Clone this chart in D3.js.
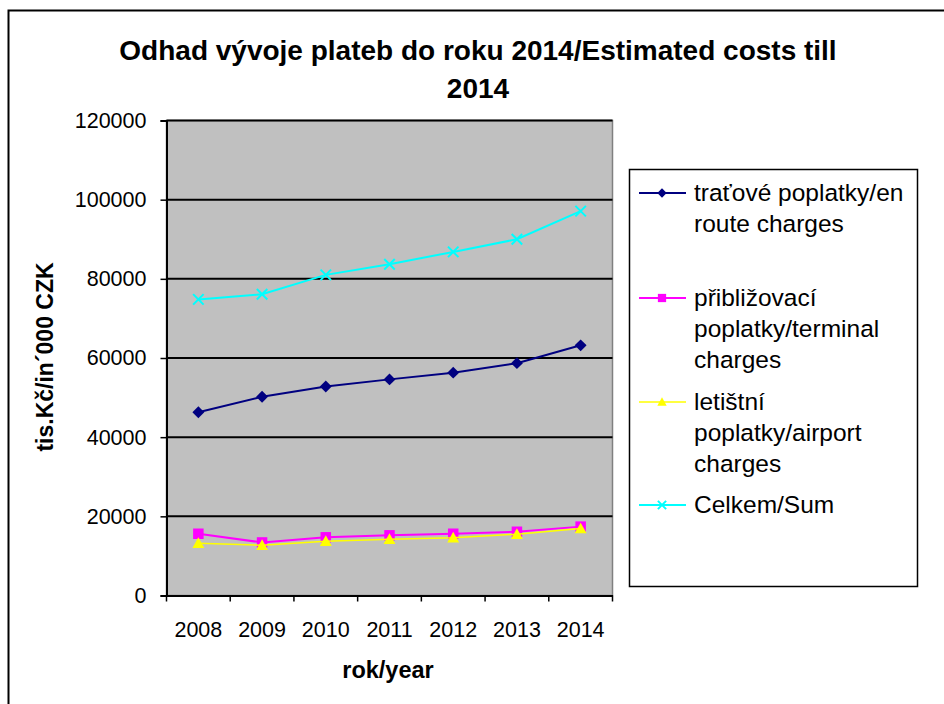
<!DOCTYPE html>
<html>
<head>
<meta charset="utf-8">
<script src="https://cdn.jsdelivr.net/npm/d3@7"></script>
<style>
  body { margin: 0; background: #fff; }
  svg { display: block; font-family: Arial, "Liberation Sans", sans-serif; }
</style>
</head>
<body>
<svg id="chart" width="944" height="704"></svg>
<script>
// chart data
const years = ["2008", "2009", "2010", "2011", "2012", "2013", "2014"];
const enRoute = [46300, 50200, 52800, 54600, 56300, 58700, 63200];
const terminal = [15600, 13400, 14700, 15200, 15600, 16100, 17400];
const airport = [13200, 12700, 13700, 14200, 14600, 15500, 16900];
const total = [74800, 76100, 81000, 83700, 86800, 90000, 97100];
const yTicks = [0, 20000, 40000, 60000, 80000, 100000, 120000];

const series = [
  { name: ["traťové poplatky/en", "route charges"], values: enRoute, color: "#000080", marker: "diamond", width: 2 },
  { name: ["přibližovací", "poplatky/terminal", "charges"], values: terminal, color: "#FF00FF", marker: "square", width: 2 },
  { name: ["letištní", "poplatky/airport", "charges"], values: airport, color: "#FFFF00", marker: "triangle", width: 1.5 },
  { name: ["Celkem/Sum"], values: total, color: "#00FFFF", marker: "cross", width: 2 }
];

const svg = d3.select("#chart");

// outer frame
svg.append("rect")
  .attr("x", 8.5).attr("y", 10.5)
  .attr("width", 960).attr("height", 720)
  .attr("fill", "none").attr("stroke", "#000").attr("stroke-width", 2);

const plot = { left: 166.5, top: 120.5, right: 612.5, bottom: 595.5 };

const x = d3.scaleBand().domain(years).range([plot.left, plot.right]).padding(0);
const y = d3.scaleLinear().domain([0, 120000]).range([plot.bottom, plot.top]);

// plot background
svg.append("rect")
  .attr("x", plot.left).attr("y", plot.top)
  .attr("width", plot.right - plot.left).attr("height", plot.bottom - plot.top)
  .attr("fill", "#C0C0C0").attr("stroke", "#808080").attr("stroke-width", 1.5);

// gridlines
svg.append("g").selectAll("line")
  .data(yTicks.filter(d => d > 0))
  .join("line")
  .attr("x1", plot.left).attr("x2", plot.right)
  .attr("y1", d => y(d)).attr("y2", d => y(d))
  .attr("stroke", "#000").attr("stroke-width", 2);

// y axis
const yAxis = svg.append("g")
  .attr("transform", `translate(${plot.left},0)`)
  .call(d3.axisLeft(y).tickValues(yTicks).tickFormat(d3.format("d")).tickSize(6).tickPadding(14));
yAxis.select(".domain").attr("stroke-width", 2);
yAxis.selectAll(".tick line").attr("stroke-width", 1.5);
yAxis.selectAll("text").attr("font-size", 21.5).attr("fill", "#000").attr("font-family", null);

// x axis: labels at category centres, ticks at category boundaries
const xAxis = svg.append("g")
  .attr("transform", `translate(0,${plot.bottom})`)
  .call(d3.axisBottom(x).tickSize(0).tickPadding(26));
xAxis.select(".domain").attr("stroke-width", 2);
xAxis.selectAll("text").attr("font-size", 21.5).attr("fill", "#000").attr("font-family", null);
const bounds = years.map(d => x(d)).concat([plot.right]);
xAxis.selectAll(".bound")
  .data(bounds)
  .join("line")
  .attr("class", "bound")
  .attr("x1", d => d).attr("x2", d => d)
  .attr("y1", 0).attr("y2", 6)
  .attr("stroke", "#000").attr("stroke-width", 1.5);

// axis titles
svg.append("text")
  .attr("x", 388).attr("y", 678)
  .attr("text-anchor", "middle")
  .attr("font-size", 23.5).attr("font-weight", "bold")
  .text("rok/year");

svg.append("text")
  .attr("transform", `translate(53,357) rotate(-90)`)
  .attr("text-anchor", "middle")
  .attr("font-size", 23).attr("font-weight", "bold")
  .text("tis.Kč/in´000 CZK");

// title
const title = svg.append("text")
  .attr("text-anchor", "middle")
  .attr("font-size", 28).attr("font-weight", "bold");
title.append("tspan").attr("x", 478).attr("y", 60)
  .text("Odhad vývoje plateb do roku 2014/Estimated costs till");
title.append("tspan").attr("x", 478).attr("y", 98).text("2014");

// markers
function drawMarker(g, type, color, s) {
  if (type === "diamond") {
    const d = s * 0.85;
    g.append("path").attr("d", `M0,${-d}L${d},0L0,${d}L${-d},0Z`).attr("fill", color);
  } else if (type === "square") {
    g.append("rect").attr("x", -s * 0.75).attr("y", -s * 0.75)
      .attr("width", s * 1.5).attr("height", s * 1.5).attr("fill", color);
  } else if (type === "triangle") {
    const d = s * 0.85;
    g.append("path").attr("d", `M0,${-d}L${d},${d * 0.8}L${-d},${d * 0.8}Z`).attr("fill", color);
  } else {
    const c = s * 0.75;
    g.append("path").attr("d", `M${-c},${-c}L${c},${c}M${-c},${c}L${c},${-c}`)
      .attr("stroke", color).attr("stroke-width", 2);
  }
}

const line = d3.line().x((d, i) => x(years[i]) + x.bandwidth() / 2).y(d => y(d));

series.forEach(s => {
  svg.append("path")
    .datum(s.values)
    .attr("d", line)
    .attr("fill", "none")
    .attr("stroke", s.color)
    .attr("stroke-width", s.width);
  s.values.forEach((v, i) => {
    const g = svg.append("g")
      .attr("transform", `translate(${x(years[i]) + x.bandwidth() / 2},${y(v)})`);
    drawMarker(g, s.marker, s.color, 7);
  });
});

// legend
svg.append("rect")
  .attr("x", 629.5).attr("y", 169.5)
  .attr("width", 288).attr("height", 417)
  .attr("fill", "#fff").attr("stroke", "#000").attr("stroke-width", 1.5);

const legendTops = [201, 306, 410, 513];
const lineH = 31;
series.forEach((s, k) => {
  const top = legendTops[k];
  const symY = top - 8;
  svg.append("line")
    .attr("x1", 639).attr("x2", 686)
    .attr("y1", symY).attr("y2", symY)
    .attr("stroke", s.color).attr("stroke-width", s.width);
  const g = svg.append("g").attr("transform", `translate(662,${symY})`);
  drawMarker(g, s.marker, s.color, 5.5);
  const t = svg.append("text").attr("font-size", 24.5);
  s.name.forEach((ln, j) => {
    t.append("tspan").attr("x", 694).attr("y", top + j * lineH).text(ln);
  });
});
</script>
</body>
</html>
